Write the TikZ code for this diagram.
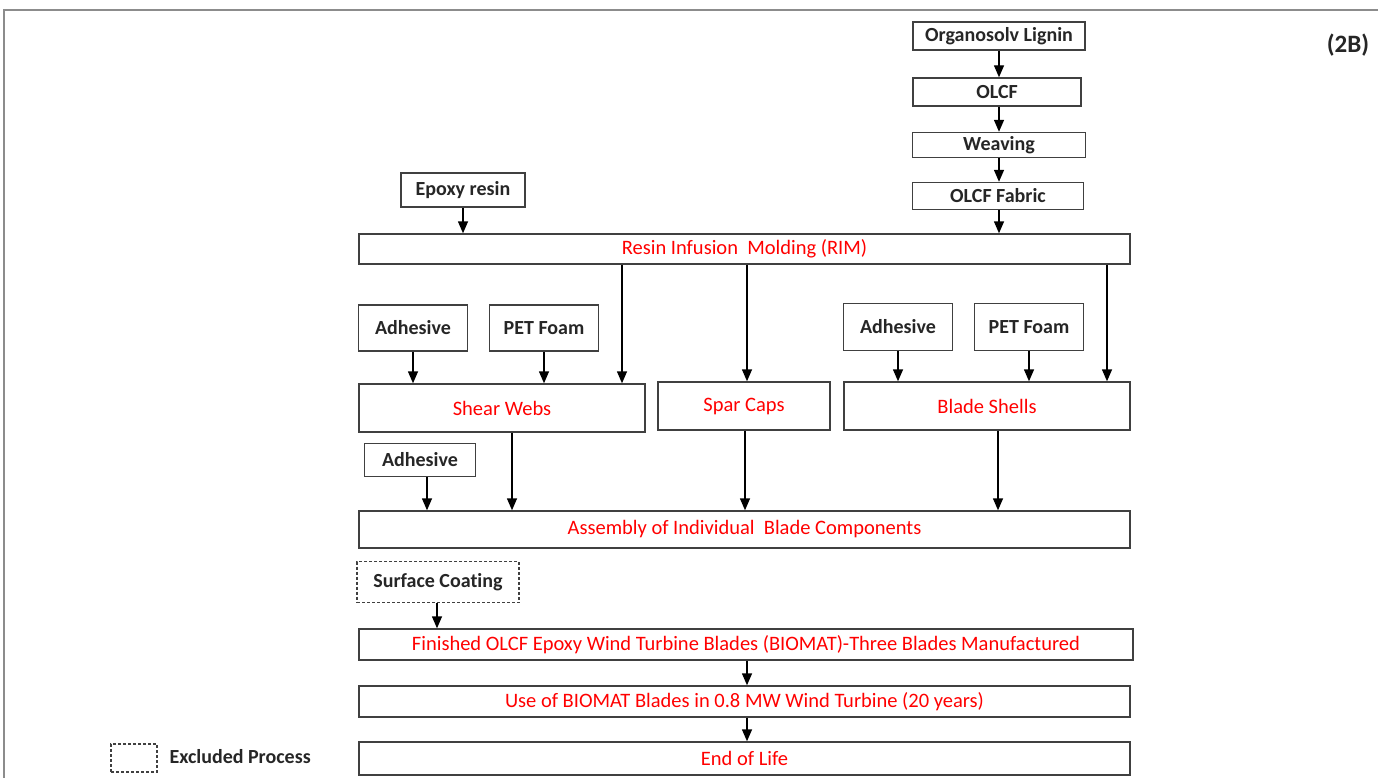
\documentclass[tikz,border=0pt]{standalone}
\usepackage{fontspec}
\setmainfont{Carlito}[Ligatures=NoCommon]
\usetikzlibrary{arrows.meta}
\definecolor{boxgray}{HTML}{404040}
\definecolor{framegray}{HTML}{8C8C8C}
\begin{document}
\begin{tikzpicture}[x=1pt,y=-1pt,
  base/.style={draw=boxgray, line width=1.4pt, fill=white, inner sep=0pt, anchor=center},
  box/.style={base, font=\fontsize{20}{24}\selectfont\bfseries, text=black!85},
  rbox/.style={base, font=\fontsize{20.5}{24}\selectfont, text=red},
  exbox/.style={box, dash pattern=on 3pt off 2pt},
  arr/.style={line width=1.4pt, draw=black, -{Triangle[width=10pt,length=12pt]}}
]
\useasboundingbox (0,0) rectangle (1378,778);
\draw[framegray, line width=1.5pt] (4,778) -- (4,10) -- (1378,10);

\node[font=\fontsize{25}{28}\selectfont\bfseries, text=black!85] (lbl) at (1348,45) {(2B)};

% top chain
\node[box, minimum width=172, minimum height=28] (ol) at (999,36) {Organosolv Lignin};
\node[box, minimum width=168, minimum height=28] (olcf) at (997,92) {OLCF};
\node[box, minimum width=173, minimum height=25] (weav) at (999,145) {Weaving};
\node[box, minimum width=171, minimum height=27] (fab) at (998,196) {OLCF Fabric};
\node[box, minimum width=124, minimum height=34] (ep) at (463,190) {Epoxy resin};
\node[rbox, minimum width=771, minimum height=30] (rim) at (744.5,249) {Resin Infusion\ \ Molding (RIM)};

% middle row
\node[box, minimum width=109, minimum height=46] (ad1) at (413,328) {Adhesive};
\node[box, minimum width=109, minimum height=46] (pet1) at (544,328) {PET Foam};
\node[box, minimum width=109, minimum height=47] (ad2) at (898,327) {Adhesive};
\node[box, minimum width=109, minimum height=47] (pet2) at (1029,327) {PET Foam};
\node[rbox, minimum width=286, minimum height=48] (sw) at (502,408) {Shear Webs};
\node[rbox, minimum width=172, minimum height=48] (sc) at (744,406) {Spar Caps};
\node[rbox, minimum width=286, minimum height=48] (bs) at (987,406) {Blade Shells};

\node[box, minimum width=111, minimum height=33] (ad3) at (420,460) {Adhesive};
\node[rbox, minimum width=771, minimum height=37] (asm) at (744.5,529.5) {Assembly of Individual\ \ Blade Components};

\node[exbox, minimum width=162, minimum height=41] (coat) at (438,582) {Surface Coating};
\node[rbox, minimum width=774, minimum height=31] (fin) at (746,644.5) {Finished OLCF Epoxy Wind Turbine Blades (BIOMAT)-Three Blades Manufactured};
\node[rbox, minimum width=771, minimum height=31] (use) at (744.5,701.5) {Use of BIOMAT Blades in 0.8 MW Wind Turbine (20 years)};
\node[rbox, minimum width=771, minimum height=33] (eol) at (744.5,758.5) {End of Life};

% legend
\node[exbox, minimum width=46, minimum height=28] (leg) at (134,758) {};
\node[font=\fontsize{20}{24}\selectfont\bfseries, text=black!85, anchor=west] (legt) at (166,757) {Excluded Process};

% helper x positions
\coordinate (x622) at (622,0);
\coordinate (x747) at (747,0);
\coordinate (x1107) at (1107,0);
\coordinate (x427) at (427,0);
\coordinate (x512) at (512,0);
\coordinate (x745) at (745,0);
\coordinate (x998) at (998,0);
\coordinate (x437) at (437,0);

% arrows
\draw[arr] (ol.south) -- (ol.south |- olcf.north);
\draw[arr] (olcf.south -| ol.south) -- (ol.south |- weav.north);
\draw[arr] (weav.south -| ol.south) -- (ol.south |- fab.north);
\draw[arr] (fab.south -| ol.south) -- (ol.south |- rim.north);
\draw[arr] (ep.south) -- (ep.south |- rim.north);

\draw[arr] (rim.south -| x622) -- (sw.north -| x622);
\draw[arr] (rim.south -| x747) -- (sc.north -| x747);
\draw[arr] (rim.south -| x1107) -- (bs.north -| x1107);
\draw[arr] (ad1.south) -- (ad1.south |- sw.north);
\draw[arr] (pet1.south) -- (pet1.south |- sw.north);
\draw[arr] (ad2.south) -- (ad2.south |- bs.north);
\draw[arr] (pet2.south) -- (pet2.south |- bs.north);

\draw[arr] (ad3.south -| x427) -- (asm.north -| x427);
\draw[arr] (sw.south -| x512) -- (asm.north -| x512);
\draw[arr] (sc.south -| x745) -- (asm.north -| x745);
\draw[arr] (bs.south -| x998) -- (asm.north -| x998);

\draw[arr] (coat.south -| x437) -- (fin.north -| x437);
\draw[arr] (fin.south -| x747) -- (use.north -| x747);
\draw[arr] (use.south -| x747) -- (eol.north -| x747);
\end{tikzpicture}
\end{document}
